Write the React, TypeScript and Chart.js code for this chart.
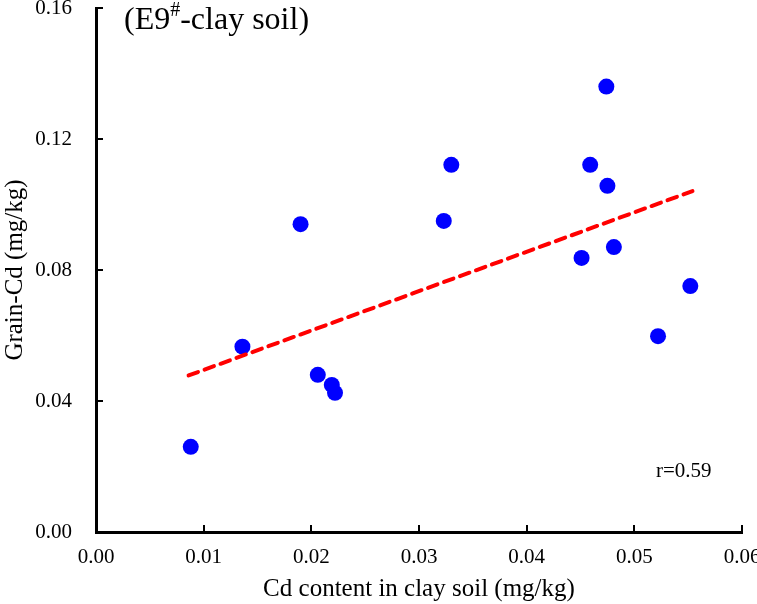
import React, { useEffect, useRef } from "react";
import { Chart, registerables } from "chart.js";

Chart.register(...registerables);

const cdClaySoil = [0.0088, 0.0136, 0.0190, 0.0206, 0.0219, 0.0222, 0.0323, 0.0330, 0.0451, 0.0459, 0.0474, 0.0475, 0.0481, 0.0522, 0.0552];
const grainCd = [0.026, 0.0566, 0.094, 0.048, 0.0449, 0.0425, 0.095, 0.1121, 0.0837, 0.1121, 0.136, 0.1057, 0.087, 0.0598, 0.0751];
const trendX = [0.0086, 0.0554];
const trendY = [0.0478, 0.1041];
const xTicks = [0, 0.01, 0.02, 0.03, 0.04, 0.05, 0.06];
const yTicks = [0, 0.04, 0.08, 0.12, 0.16];
const titleMain = "(E9";
const titleSup = "#";
const titleRest = "-clay soil)";
const rLabel = "r=0.59";
const xTitle = "Cd content in clay soil (mg/kg)";
const yTitle = "Grain-Cd (mg/kg)";

const FONT = "'Liberation Serif', 'Times New Roman', serif";

const decorPlugin = {
  id: "decor",
  afterDraw(chart: any) {
    const ctx = chart.ctx;
    const xs = chart.scales.x;
    const ys = chart.scales.y;
    const area = chart.chartArea;
    ctx.save();
    ctx.strokeStyle = "#000";
    ctx.lineWidth = 2;
    ctx.beginPath();
    for (const v of xTicks) {
      const px = Math.round(xs.getPixelForValue(v));
      ctx.moveTo(px, area.bottom);
      ctx.lineTo(px, area.bottom - 7);
    }
    for (const v of yTicks) {
      const py = Math.round(ys.getPixelForValue(v));
      ctx.moveTo(area.left, py);
      ctx.lineTo(area.left + 7, py);
    }
    ctx.stroke();
    ctx.fillStyle = "#000";
    ctx.textBaseline = "alphabetic";
    ctx.textAlign = "left";
    let x = 124;
    const base = 29;
    ctx.font = `32px ${FONT}`;
    ctx.fillText(titleMain, x, base);
    x += ctx.measureText(titleMain).width;
    ctx.font = `20px ${FONT}`;
    ctx.fillText(titleSup, x, base - 13);
    x += ctx.measureText(titleSup).width;
    ctx.font = `32px ${FONT}`;
    ctx.fillText(titleRest, x, base);
    ctx.font = `21px ${FONT}`;
    ctx.fillText(rLabel, 656, 477);
    ctx.restore();
  },
};

export default function App() {
  const ref = useRef<HTMLCanvasElement | null>(null);
  useEffect(() => {
    if (!ref.current) return;
    const chart = new Chart(ref.current, {
      type: "scatter",
      data: {
        datasets: [
          {
            type: "line",
            label: "trend",
            data: trendX.map((v, i) => ({ x: v, y: trendY[i] })),
            borderColor: "#FF0000",
            borderWidth: 4,
            borderDash: [10, 7],
            borderCapStyle: "round",
            pointRadius: 0,
            fill: false,
            order: 0,
          } as any,
          {
            type: "scatter",
            label: "data",
            data: cdClaySoil.map((v, i) => ({ x: v, y: grainCd[i] })),
            backgroundColor: "#0000FF",
            borderColor: "#0000FF",
            borderWidth: 0,
            pointRadius: 8,
            order: 1,
          },
        ],
      },
      options: {
        animation: false,
        responsive: false,
        devicePixelRatio: 1,
        layout: { padding: { top: 8, right: 15, left: 0, bottom: 0 } },
        plugins: { legend: { display: false }, tooltip: { enabled: false }, title: { display: false } },
        scales: {
          x: {
            type: "linear",
            min: 0,
            max: 0.06,
            afterFit: (s: any) => { s.height = 72; s.paddingLeft = 0; s.paddingRight = 0; },
            afterBuildTicks: (s: any) => { s.ticks = xTicks.map((v) => ({ value: v })); },
            ticks: {
              color: "#000",
              padding: 13,
              font: { family: FONT, size: 21 },
              callback: (v: any) => Number(v).toFixed(2),
              maxRotation: 0,
              autoSkip: false,
            },
            grid: { display: true, drawOnChartArea: false, drawTicks: false, color: "#000" },
            border: { display: true, color: "#000", width: 3 },
            title: { display: true, text: xTitle, color: "#000", font: { family: FONT, size: 25 }, padding: { top: 0, bottom: 0 } },
          },
          y: {
            type: "linear",
            min: 0,
            max: 0.16,
            afterFit: (s: any) => { s.width = 96; s.paddingTop = 0; s.paddingBottom = 0; },
            afterBuildTicks: (s: any) => { s.ticks = yTicks.map((v) => ({ value: v })); },
            ticks: {
              color: "#000",
              padding: 24,
              font: { family: FONT, size: 21 },
              callback: (v: any) => Number(v).toFixed(2),
              autoSkip: false,
            },
            grid: { display: true, drawOnChartArea: false, drawTicks: false, color: "#000" },
            border: { display: true, color: "#000", width: 3 },
            title: { display: true, text: yTitle, color: "#000", font: { family: FONT, size: 25 }, padding: { top: 0, bottom: 0 } },
          },
        },
      },
      plugins: [decorPlugin],
    });
    return () => chart.destroy();
  }, []);
  return (
    <div style={{ position: "absolute", left: 0, top: 0, width: 757, height: 604, background: "#fff" }}>
      <canvas ref={ref} width={757} height={604} />
    </div>
  );
}
